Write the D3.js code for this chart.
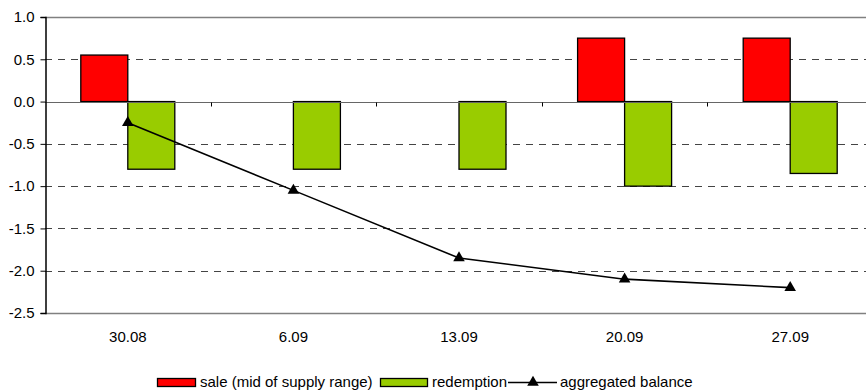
<!DOCTYPE html>
<html>
<head>
<meta charset="utf-8">
<script src="https://cdn.jsdelivr.net/npm/d3@7/dist/d3.min.js"></script>
<style>
  html, body { margin: 0; padding: 0; background: #fff; }
  svg { display: block; font-family: "Liberation Sans", Arial, sans-serif; }
</style>
</head>
<body>
<svg id="chart" width="866" height="391"></svg>
<script>
// Weekly supply vs. redemption (bn) and running balance
const categories = ["30.08", "6.09", "13.09", "20.09", "27.09"];
const sale = [0.55, 0, 0, 0.75, 0.75];
const redemption = [-0.8, -0.8, -0.8, -1.0, -0.85];
const balance = [-0.25, -1.05, -1.85, -2.1, -2.2];
const yTickValues = [1.0, 0.5, 0.0, -0.5, -1.0, -1.5, -2.0, -2.5];
const yTickLabels = ["1.0", "0.5", "0.0", "-0.5", "-1.0", "-1.5", "-2.0", "-2.5"];
const seriesNames = ["sale (mid of supply range)", "redemption", "aggregated balance"];

const svg = d3.select("#chart");
const plotLeft = 45, plotRight = 873, plotTop = 17, plotBottom = 313;
const FONT = "Liberation Sans, Arial, sans-serif";

const x = d3.scaleBand().domain(categories).range([plotLeft, plotRight]).paddingInner(0).paddingOuter(0);
const y = d3.scaleLinear().domain([-2.5, 1]).range([plotBottom, plotTop]);
const barW = 47;
const cx = c => x(c) + x.bandwidth() / 2;

// dashed gridlines
svg.append("g").selectAll("line")
  .data(yTickValues.filter(v => v !== 0 && v !== 1 && v !== -2.5))
  .join("line")
  .attr("x1", plotLeft).attr("x2", 866)
  .attr("y1", d => Math.round(y(d)) + 0.5).attr("y2", d => Math.round(y(d)) + 0.5)
  .attr("stroke", "#444").attr("stroke-width", 1)
  .attr("stroke-dasharray", "7,6");

// plot frame (top and bottom)
[1, -2.5].forEach(v => {
  svg.append("line")
    .attr("x1", plotLeft).attr("x2", 866)
    .attr("y1", Math.round(y(v)) + 0.5).attr("y2", Math.round(y(v)) + 0.5)
    .attr("stroke", "#808080").attr("stroke-width", 1.5);
});

// bars
const bars = svg.append("g");
bars.selectAll("rect.sale")
  .data(categories.map((c, i) => ({ c, v: sale[i] })).filter(d => d.v !== 0))
  .join("rect").attr("class", "sale")
  .attr("x", d => cx(d.c) - barW).attr("width", barW)
  .attr("y", d => y(Math.max(0, d.v))).attr("height", d => Math.abs(y(d.v) - y(0)))
  .attr("fill", "#FF0000").attr("stroke", "#000").attr("stroke-width", 1.3);
bars.selectAll("rect.red")
  .data(categories.map((c, i) => ({ c, v: redemption[i] })))
  .join("rect").attr("class", "red")
  .attr("x", d => cx(d.c)).attr("width", barW)
  .attr("y", d => y(Math.max(0, d.v))).attr("height", d => Math.abs(y(d.v) - y(0)))
  .attr("fill", "#99CC00").attr("stroke", "#000").attr("stroke-width", 1.3);

// zero line (category axis) with boundary ticks
const zy = Math.round(y(0)) + 0.5;
svg.append("line").attr("x1", plotLeft).attr("x2", 866).attr("y1", zy).attr("y2", zy)
  .attr("stroke", "#666").attr("stroke-width", 1);
svg.append("g").selectAll("line")
  .data(categories.slice(1))
  .join("line")
  .attr("x1", d => Math.round(x(d)) + 0.5).attr("x2", d => Math.round(x(d)) + 0.5)
  .attr("y1", zy).attr("y2", zy + 4)
  .attr("stroke", "#000");

// category labels
const xAxis = d3.axisBottom(x).tickSize(0).tickPadding(18);
const gx = svg.append("g").attr("transform", `translate(0,${plotBottom})`).call(xAxis);
gx.select(".domain").remove();
gx.selectAll("text").attr("font-size", 15).attr("font-family", FONT).attr("fill", "#000");

// value axis
const yAxis = d3.axisLeft(y).tickValues(yTickValues)
  .tickFormat((d, i) => yTickLabels[i]).tickSize(5).tickPadding(6);
const gy = svg.append("g").attr("transform", `translate(${plotLeft + 0.5},0)`).call(yAxis);
gy.select(".domain").attr("stroke", "#000").attr("stroke-width", 1.5);
gy.selectAll(".tick line").attr("stroke", "#000");
gy.selectAll("text").attr("font-size", 15).attr("font-family", FONT).attr("fill", "#000");

// aggregated balance line
const line = d3.line().x((d, i) => cx(categories[i])).y(d => y(d));
svg.append("path").datum(balance).attr("d", line)
  .attr("fill", "none").attr("stroke", "#000").attr("stroke-width", 1.6);
const tri = d3.symbol().type(d3.symbolTriangle).size(58);
svg.append("g").selectAll("path")
  .data(balance).join("path")
  .attr("d", tri)
  .attr("transform", (d, i) => `translate(${cx(categories[i])},${y(d)})`)
  .attr("fill", "#000");

// legend
const lg = svg.append("g").attr("font-size", 15).attr("font-family", FONT).attr("fill", "#000");
const base = 387, mid = 382.5;
lg.append("rect").attr("x", 157.5).attr("y", 378.5).attr("width", 38).attr("height", 8)
  .attr("fill", "#FF0000").attr("stroke", "#000").attr("stroke-width", 1.3);
lg.append("text").attr("x", 200).attr("y", base).text(seriesNames[0]);
lg.append("rect").attr("x", 380.5).attr("y", 378.5).attr("width", 47).attr("height", 8)
  .attr("fill", "#99CC00").attr("stroke", "#000").attr("stroke-width", 1.3);
lg.append("text").attr("x", 432).attr("y", base).text(seriesNames[1]);
lg.append("line").attr("x1", 508).attr("x2", 557).attr("y1", mid).attr("y2", mid)
  .attr("stroke", "#000").attr("stroke-width", 1.6);
lg.append("path").attr("d", tri).attr("transform", `translate(533,${mid})`).attr("fill", "#000");
lg.append("text").attr("x", 560).attr("y", base).text(seriesNames[2]);
</script>
</body>
</html>
